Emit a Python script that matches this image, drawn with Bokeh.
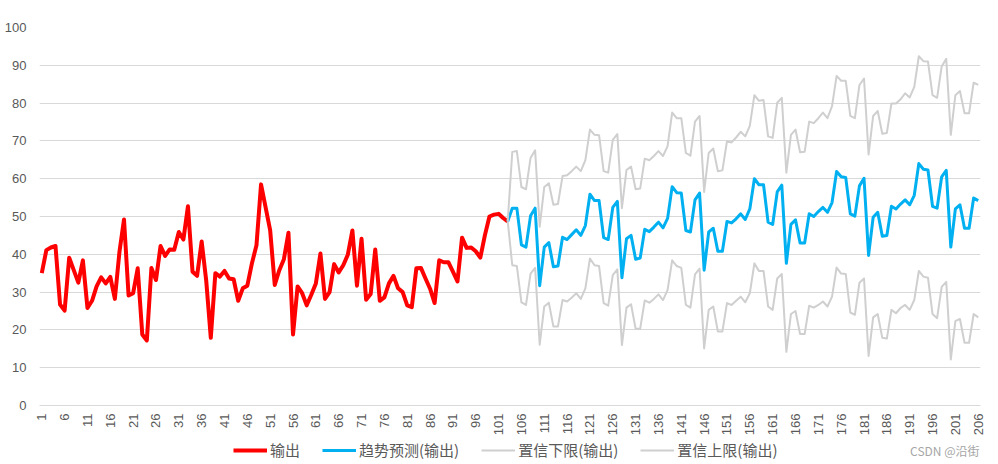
import math
from bokeh.plotting import figure
from bokeh.layouts import column
from bokeh.models import Legend, LegendItem, FixedTicker, Label
from bokeh.embed import file_html
from bokeh.resources import INLINE

# ---------------- data ----------------
series_names = ["输出", "趋势预测(输出)", "置信下限(输出)", "置信上限(输出)"]

actual = [35.0, 41.1, 41.8, 42.2, 26.7, 25.1, 39.1, 35.8, 32.5, 38.4,
          25.8, 27.7, 31.5, 33.9, 32.3, 34.0, 28.2, 40.6, 49.2, 29.1,
          29.7, 36.3, 18.8, 17.2, 36.4, 33.2, 42.2, 39.6, 41.3, 41.2,
          45.9, 43.9, 52.7, 35.4, 34.3, 43.4, 33.0, 17.9, 35.0, 34.1,
          35.6, 33.6, 33.4, 27.7, 31.0, 31.7, 37.6, 42.4, 58.5, 52.4,
          46.3, 31.9, 35.8, 38.7, 45.7, 18.8, 31.5, 29.7, 26.5, 29.3,
          32.3, 40.2, 28.2, 30.0, 37.4, 35.2, 37.1, 39.9, 46.3, 31.7,
          44.1, 28.0, 29.5, 41.3, 27.7, 28.6, 32.3, 34.3, 31.0, 30.0,
          26.5, 26.0, 36.3, 36.4, 33.6, 30.9, 27.1, 38.4, 37.9, 37.9,
          35.4, 32.8, 44.4, 41.7, 41.8, 40.8, 39.1, 45.0, 50.0, 50.5,
          50.7, 49.6, 48.7]

forecast = [48.7, 52.2, 52.2, 42.5, 41.9, 50.2, 52.2,
            31.7, 41.9, 43.1, 36.7, 36.9, 44.5, 43.9, 45.2, 46.5, 45.0, 47.6, 55.9, 54.2, 54.2, 44.4, 43.9, 52.4, 54.0,
            33.8, 44.1, 45.0, 38.7, 39.0, 46.6, 46.0, 47.2, 48.5, 47.0, 49.5, 57.9, 56.3, 56.2, 46.3, 45.9, 54.4, 56.2,
            35.8, 45.9, 46.9, 40.8, 40.8, 48.7, 48.3, 49.4, 50.7, 49.2, 52.0, 60.0, 58.4, 58.4, 48.5, 47.9, 56.5, 58.3,
            37.6, 47.9, 49.1, 43.0, 43.0, 50.7, 50.0, 51.3, 52.4, 51.1, 53.7, 61.9, 60.5, 60.3, 50.7, 50.1, 58.1, 60.1,
            39.7, 49.8, 51.1, 44.8, 45.0, 52.7, 52.0, 53.3, 54.4, 53.1, 55.6, 64.0, 62.5, 62.3, 52.7, 52.2, 60.5, 62.2,
            41.9, 52.0, 53.1, 46.9, 46.9, 54.9, 54.2]

lower = [48.7, 37.1, 36.9, 27.3, 26.6, 34.9, 36.4,
         16.1, 26.2, 27.2, 20.9, 20.9, 27.9, 27.5, 28.5, 29.7, 28.2, 31.0, 38.9, 37.1, 36.9, 27.1, 26.4, 34.5, 36.0,
         16.0, 25.9, 26.8, 20.3, 20.3, 27.8, 27.2, 28.2, 29.4, 27.9, 30.6, 38.4, 36.9, 36.4, 26.6, 25.9, 34.7, 36.2,
         15.1, 25.3, 26.2, 19.6, 19.6, 27.1, 26.6, 27.7, 28.8, 27.3, 29.7, 37.6, 35.6, 35.6, 26.2, 25.3, 33.6, 34.8,
         14.2, 24.2, 25.0, 18.9, 18.9, 26.4, 25.9, 26.6, 27.5, 26.2, 28.8, 36.5, 34.9, 34.8, 24.6, 24.0, 32.5, 33.6,
         13.1, 23.3, 24.2, 17.9, 17.7, 25.3, 24.4, 25.8, 26.6, 25.3, 27.9, 35.6, 34.1, 33.8, 24.2, 23.1, 31.4, 32.7,
         12.2, 22.3, 22.9, 16.6, 16.6, 24.2, 23.3]

upper = [48.7, 67.1, 67.3, 57.8, 57.2, 65.5, 67.5,
         47.3, 57.8, 58.8, 53.1, 53.3, 60.7, 60.9, 62.0, 63.2, 62.0, 64.9, 73.0, 71.6, 71.5, 62.0, 61.6, 70.3, 71.8,
         52.2, 62.3, 63.2, 57.2, 57.4, 65.3, 64.9, 66.0, 67.3, 66.0, 68.6, 77.5, 76.0, 76.0, 66.8, 66.1, 75.1, 76.6,
         56.5, 66.8, 68.0, 62.0, 62.2, 69.9, 69.6, 70.9, 72.4, 71.2, 74.0, 82.1, 80.6, 80.8, 71.2, 70.8, 80.1, 81.4,
         61.6, 71.6, 73.0, 67.0, 67.1, 75.1, 74.7, 76.0, 77.5, 76.0, 79.2, 87.2, 85.9, 85.9, 76.6, 76.0, 84.8, 86.5,
         66.4, 76.6, 77.9, 71.9, 72.1, 79.9, 79.9, 81.0, 82.6, 81.5, 84.3, 92.4, 91.1, 91.0, 82.1, 81.4, 89.7, 91.7,
         71.6, 82.1, 83.2, 77.3, 77.3, 85.4, 84.8]

actual_x = list(range(1, len(actual) + 1))
forecast_x = list(range(len(actual), len(actual) + len(forecast)))
x_tick_labels = list(range(1, 207, 5))
y_tick_labels = list(range(0, 101, 10))

# ---------------- styles ----------------
TXT = "#595959"
GRID = "#d9d9d9"
NUM_FONT = "Liberation Sans"
CJK_FONT = "Noto Sans CJK SC"
RED, BLUE, GREY = "#ff0000", "#00b0f0", "#cfcfcf"

# ---------------- main chart ----------------
p = figure(width=998, height=438, x_range=(0.5, 206.5), y_range=(0, 100),
           output_backend="svg", toolbar_location=None,
           min_border_left=39, min_border_right=18, min_border_top=27, min_border_bottom=30)
p.outline_line_color = None
p.xgrid.grid_line_color = None
p.ygrid.grid_line_color = GRID

p.xaxis.ticker = FixedTicker(ticks=x_tick_labels)
p.xaxis.major_label_orientation = math.pi / 2
p.xaxis.major_tick_line_color = None
p.xaxis.major_tick_out = 0
p.xaxis.major_tick_in = 0
p.xaxis.minor_tick_line_color = None
p.xaxis.axis_line_color = GRID
p.xaxis.major_label_standoff = 8
p.xaxis.major_label_text_font_size = "13px"
p.xaxis.major_label_text_color = TXT
p.xaxis.major_label_text_font = NUM_FONT

p.yaxis.ticker = FixedTicker(ticks=y_tick_labels)
p.yaxis.major_tick_line_color = None
p.yaxis.major_tick_out = 0
p.yaxis.major_tick_in = 0
p.yaxis.minor_tick_line_color = None
p.yaxis.axis_line_color = None
p.yaxis.major_label_standoff = 13
p.yaxis.major_label_text_font_size = "13px"
p.yaxis.major_label_text_color = TXT
p.yaxis.major_label_text_font = NUM_FONT

p.line(actual_x, actual, line_color=RED, line_width=4, line_join="round")
p.line(forecast_x, forecast, line_color=BLUE, line_width=3, line_join="round")
p.line(forecast_x, lower, line_color=GREY, line_width=2, line_join="round")
p.line(forecast_x, upper, line_color=GREY, line_width=2, line_join="round")

# ---------------- legend strip (frame aligned with the main chart: 39..980) ----------------
lg = figure(width=998, height=26, x_range=(0, 1), y_range=(0, 1),
            output_backend="svg", toolbar_location=None,
            min_border_left=39, min_border_right=18, min_border_top=0, min_border_bottom=0)
lg.axis.visible = False
lg.grid.visible = False
lg.outline_line_color = None

# proxy renderers (outside the visible range) that only carry the legend swatches
off = [-5, -4]
l_act = lg.line(off, off, line_color=RED, line_width=4)
l_fc = lg.line(off, off, line_color=BLUE, line_width=3)
l_lo = lg.line(off, off, line_color=GREY, line_width=2)
l_up = lg.line(off, off, line_color=GREY, line_width=2)

legend = Legend(items=[LegendItem(label=series_names[0], renderers=[l_act]),
                       LegendItem(label=series_names[1], renderers=[l_fc]),
                       LegendItem(label=series_names[2], renderers=[l_lo]),
                       LegendItem(label=series_names[3], renderers=[l_up])],
                orientation="horizontal", location=(194, 4),
                glyph_width=34, glyph_height=16, label_standoff=3, spacing=22,
                padding=0, margin=0, border_line_color=None, background_fill_alpha=0,
                label_text_font_size="15px", label_text_color=TXT, label_text_font=CJK_FONT,
                label_height=16)
lg.add_layout(legend)

wm = Label(x=940, y=14, x_units="screen", y_units="screen", text="CSDN @沿街",
           text_align="right", text_baseline="middle", text_font_size="12px",
           text_color="#a6a6a6", text_font=CJK_FONT)
lg.add_layout(wm)

layout = column(p, lg, spacing=0)
open("out.html", "w").write(file_html(layout, INLINE))
